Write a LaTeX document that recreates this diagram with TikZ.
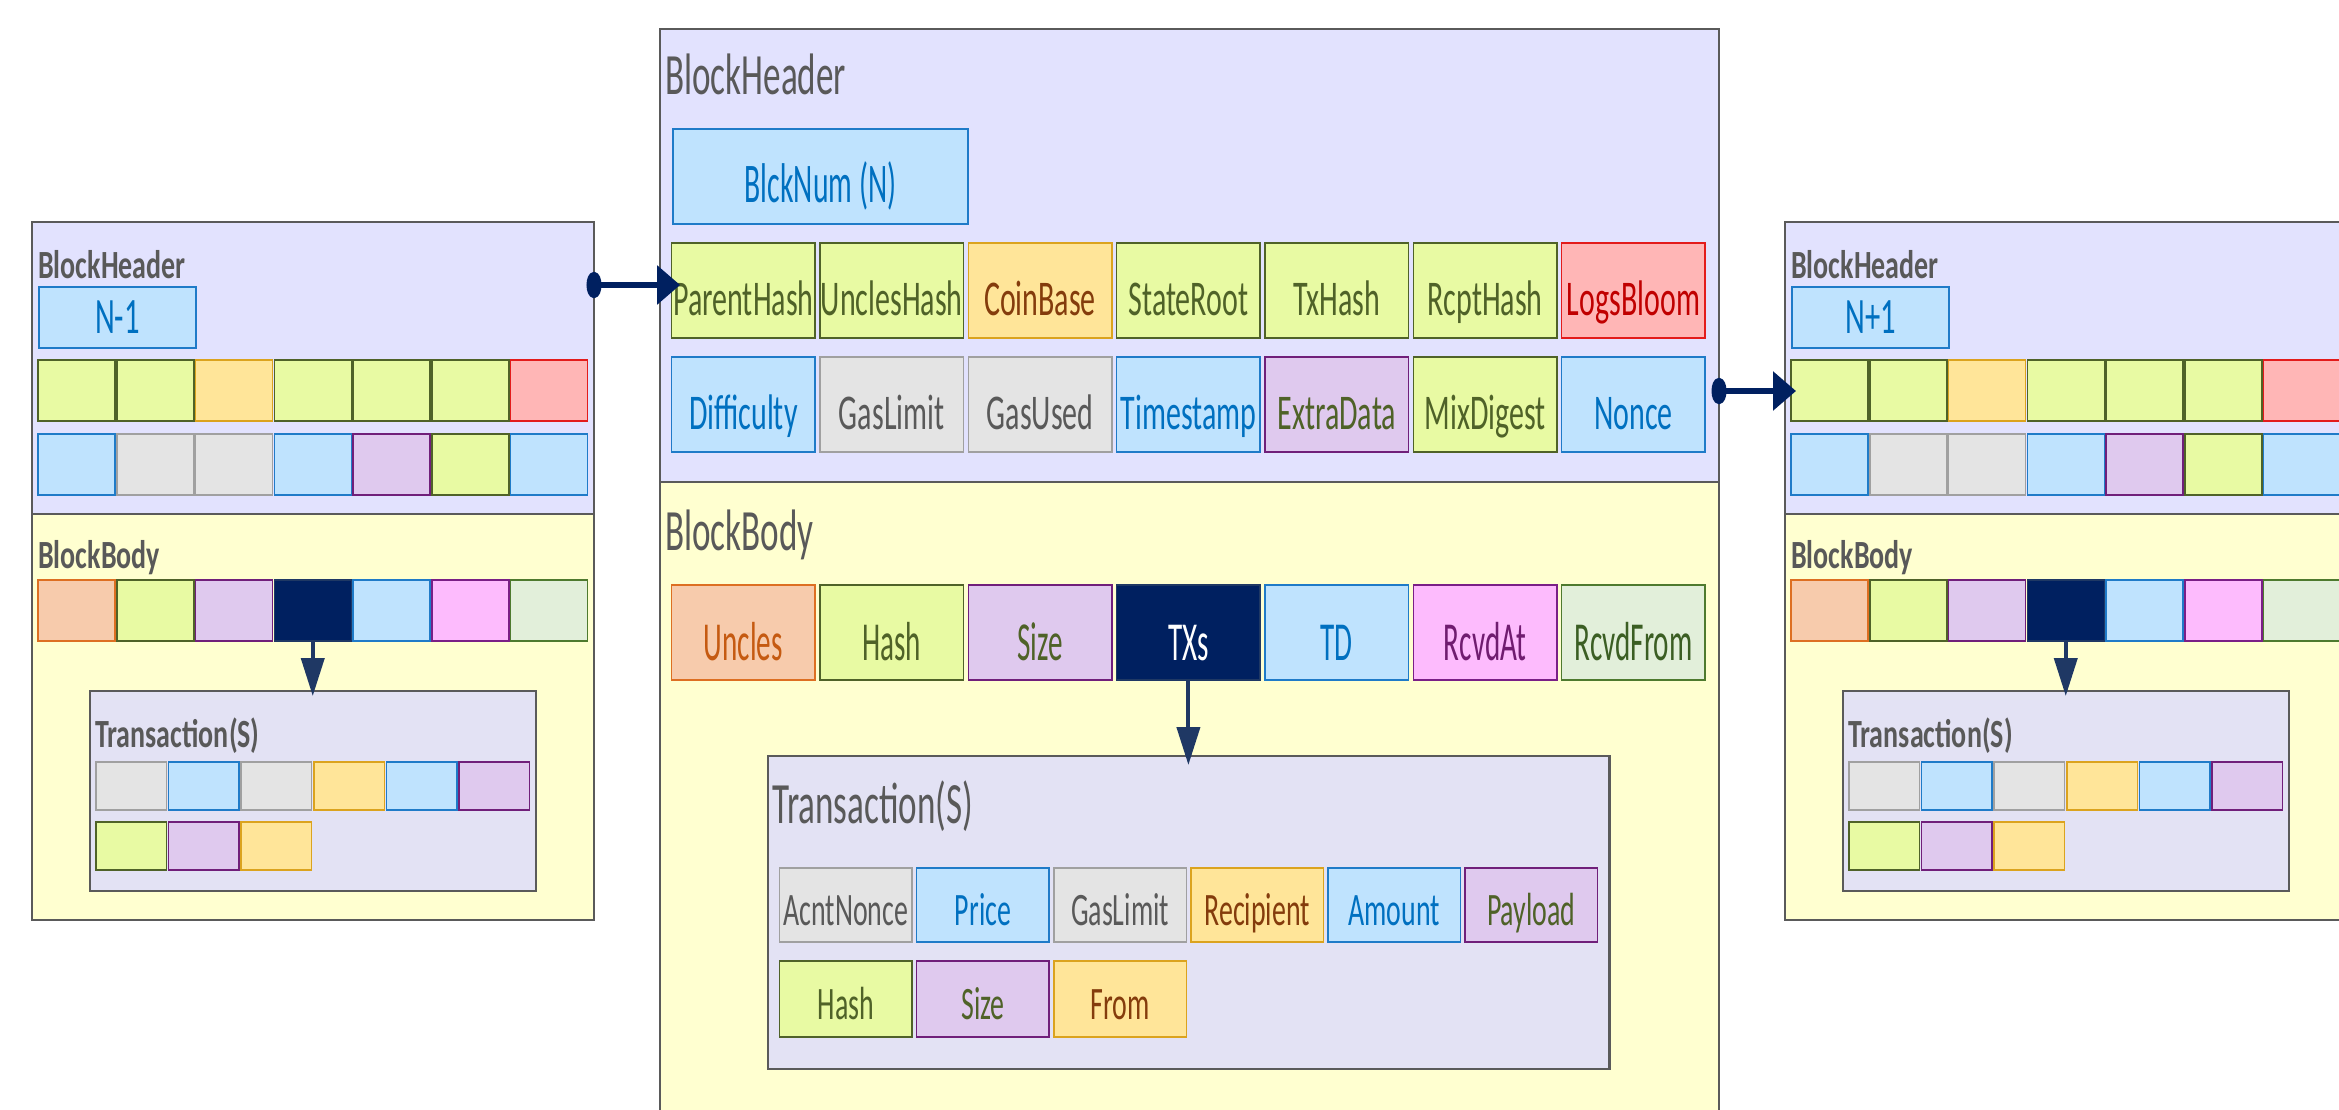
\documentclass[tikz,border=0pt]{standalone}
\usepackage{fontspec}
\setmainfont{Carlito}[FakeStretch=0.6]
\newfontfamily\sidefont{Carlito}[FakeStretch=0.7]
\newfontfamily\tallfont{Carlito}[FakeStretch=0.53]
\usetikzlibrary{arrows.meta}

% frame colours
\definecolor{frm}{HTML}{5A5A5A}
\definecolor{hdrfill}{HTML}{E2E2FE}
\definecolor{bodyfill}{HTML}{FFFFD0}
\definecolor{txfill}{HTML}{E3E2F4}
\definecolor{titletxt}{HTML}{595959}
% field colours: fill / border / text
\definecolor{grnF}{HTML}{E8FAA3}\definecolor{grnD}{HTML}{4F6228}\definecolor{grnT}{HTML}{4F6228}
\definecolor{orgF}{HTML}{FFE599}\definecolor{orgD}{HTML}{DBA31E}\definecolor{orgT}{HTML}{843C0C}
\definecolor{redF}{HTML}{FFB6B6}\definecolor{redD}{HTML}{E31B1B}\definecolor{redT}{HTML}{C00000}
\definecolor{bluF}{HTML}{BFE3FE}\definecolor{bluD}{HTML}{1F7BC8}\definecolor{bluT}{HTML}{0070C0}
\definecolor{gryF}{HTML}{E4E4E4}\definecolor{gryD}{HTML}{A0A0A0}\definecolor{gryT}{HTML}{595959}
\definecolor{purF}{HTML}{DFC9EE}\definecolor{purD}{HTML}{701F7A}\definecolor{purT}{HTML}{4F6228}
\definecolor{uncF}{HTML}{F7CBAC}\definecolor{uncD}{HTML}{DD6F22}\definecolor{uncT}{HTML}{C55A11}
\definecolor{txsF}{HTML}{002060}\definecolor{txsD}{HTML}{1F3864}\definecolor{txsT}{HTML}{FFFFFF}
\definecolor{ratF}{HTML}{FDBBFD}\definecolor{ratD}{HTML}{7A1F86}\definecolor{ratT}{HTML}{701C70}
\definecolor{rfrF}{HTML}{E2EFDA}\definecolor{rfrD}{HTML}{4E7A2E}\definecolor{rfrT}{HTML}{3B5E23}
\definecolor{hconnC}{HTML}{002060}
\definecolor{vconnC}{HTML}{1F3864}

\begin{document}
\begin{tikzpicture}[x=1pt,y=-1pt,
  frame/.style={draw=frm,line width=2.5pt,inner sep=0pt,outer sep=0pt},
  field/.style={draw=#1D,fill=#1F,text=#1T,line width=1.5pt,inner sep=0pt,outer sep=0pt},
  bigtitle/.style={anchor=base west,inner sep=0pt,text=titletxt,font=\fontsize{58.5}{58.5}\selectfont},
  sidetitle/.style={anchor=base west,inner sep=0pt,text=titletxt,font=\sidefont\bfseries\fontsize{40}{40}\selectfont},
  hfield/.style={field=#1,minimum width=143.5pt,minimum height=95pt,text height=50pt,text depth=0pt,font=\fontsize{50}{50}\selectfont},
  bfield/.style={field=#1,minimum width=143.5pt,minimum height=95pt,text height=55pt,text depth=0pt,font=\tallfont\fontsize{55}{55}\selectfont},
  tfield/.style={field=#1,minimum width=132.5pt,minimum height=74pt,text height=40pt,text depth=0pt,font=\fontsize{46.5}{46.5}\selectfont},
  sfield/.style={field=#1,minimum width=77pt,minimum height=61pt},
  stfield/.style={field=#1,minimum width=70.5pt,minimum height=48pt},
  hconn/.style={draw=hconnC,fill=hconnC,line width=6.5pt,
    {Ellipse[length=15pt,width=26pt]}-{Triangle[length=23pt,width=38pt]},shorten <=-7.5pt},
  vconn/.style={draw=vconnC,fill=vconnC,line width=4pt,-{Triangle[length=38pt,width=23pt]}}
]
\useasboundingbox (0,0) rectangle (2339,1110);
\clip (0,0) rectangle (2339,1110);
\fill[white] (0,0) rectangle (2339,1110);

% ---------- blocks N-1 and N+1 (small, unlabelled fields) ----------
\foreach \p/\ox/\num in {L/0/N-1, R/1753/N+1}{
  \node[frame,fill=hdrfill,minimum width=562pt,minimum height=292pt] (\p-hdr) at (313+\ox,368) {};
  \node[frame,fill=bodyfill,minimum width=562pt,minimum height=406pt] (\p-body) at (313+\ox,717) {};
  \node[sidetitle] (\p-hdrtitle) at (38+\ox,278) {BlockHeader};
  \node[sidetitle] (\p-bodytitle) at (38+\ox,568) {BlockBody};
  \node[field=blu,minimum width=157pt,minimum height=61pt,text height=31pt,text depth=0pt,
        font=\fontsize{51}{51}\selectfont] (\p-num) at (117.5+\ox,317.5) {\num};
  \foreach \s [count=\i] in {grn,grn,org,grn,grn,grn,red}
    \node[sfield=\s] (\p-h1-\i) at ({38+(\i-1)*78.75+38.5+\ox},390.5) {};
  \foreach \s [count=\i] in {blu,gry,gry,blu,pur,grn,blu}
    \node[sfield=\s] (\p-h2-\i) at ({38+(\i-1)*78.75+38.5+\ox},464.5) {};
  \foreach \s [count=\i] in {unc,grn,pur,txs,blu,rat,rfr}
    \node[sfield=\s] (\p-b-\i) at ({38+(\i-1)*78.75+38.5+\ox},610.5) {};
  \node[frame,fill=txfill,minimum width=446pt,minimum height=200pt] (\p-tx) at (313+\ox,791) {};
  \node[sidetitle] (\p-txtitle) at (95+\ox,747.5) {Transaction(S)};
  \foreach \s [count=\i] in {gry,blu,gry,org,blu,pur}
    \node[stfield=\s] (\p-t1-\i) at ({96+(\i-1)*72.6+35.25+\ox},786) {};
  \foreach \s [count=\i] in {grn,pur,org}
    \node[stfield=\s] (\p-t2-\i) at ({96+(\i-1)*72.6+35.25+\ox},846) {};
  \draw[vconn,shorten >=-5pt] (\p-b-4.south) -- (\p-b-4.south |- \p-tx.north);
}

% ---------- block N (full field names) ----------
\node[frame,fill=hdrfill,minimum width=1059pt,minimum height=453pt] (C-hdr) at (1189.5,255.5) {};
\node[frame,fill=bodyfill,minimum width=1059pt,minimum height=643pt] (C-body) at (1189.5,803.5) {};
\node[bigtitle] (C-hdrtitle) at (665,95) {BlockHeader};
\node[bigtitle] (C-bodytitle) at (665,550) {BlockBody};
\node[field=blu,minimum width=295pt,minimum height=95pt,text height=53pt,text depth=0pt,
      font=\tallfont\fontsize{56}{56}\selectfont] (C-num) at (820.5,176.5) {BlckNum (N)};

\foreach \t/\s [count=\i] in {ParentHash/grn,UnclesHash/grn,CoinBase/org,StateRoot/grn,
                              TxHash/grn,RcptHash/grn,LogsBloom/red}
  \node[hfield=\s] (h1-\i) at ({671.6+(\i-1)*148.35+71.75},290.5) {\t};
\foreach \t/\s [count=\i] in {Difficulty/blu,GasLimit/gry,GasUsed/gry,Timestamp/blu,
                              ExtraData/pur,MixDigest/grn,Nonce/blu}
  \node[hfield=\s] (h2-\i) at ({671.6+(\i-1)*148.35+71.75},404.5) {\t};
\foreach \t/\s [count=\i] in {Uncles/unc,Hash/grn,Size/pur,TXs/txs,TD/blu,RcvdAt/rat,RcvdFrom/rfr}
  \node[bfield=\s] (b-\i) at ({671.6+(\i-1)*148.35+71.75},632.5) {\t};

\node[frame,fill=txfill,minimum width=841.5pt,minimum height=313pt] (C-tx) at (1188.75,912.5) {};
\node[bigtitle] (C-txtitle) at (772,823) {Transaction(S)};
\foreach \t/\s [count=\i] in {AcntNonce/gry,Price/blu,GasLimit/gry,Recipient/org,Amount/blu,Payload/pur}
  \node[tfield=\s] (t1-\i) at ({779.6+(\i-1)*137.1+66.25},905) {\t};
\foreach \t/\s [count=\i] in {Hash/grn,Size/pur,From/org}
  \node[tfield=\s,minimum height=76pt] (t2-\i) at ({779.6+(\i-1)*137.1+66.25},999) {\t};

\draw[vconn,shorten >=-9pt] (b-4.south) -- (b-4.south |- C-tx.north);

% ---------- parent links between blocks ----------
\coordinate (L-out) at (L-hdr.east |- 0,285);
\coordinate (C-out) at (C-hdr.east |- 0,391);
\draw[hconn,shorten >=-8.5pt] (L-out) -- (L-out -| h1-1.west);
\draw[hconn,shorten >=-5pt] (C-out) -- (C-out -| R-h1-1.west);
\end{tikzpicture}
\end{document}
